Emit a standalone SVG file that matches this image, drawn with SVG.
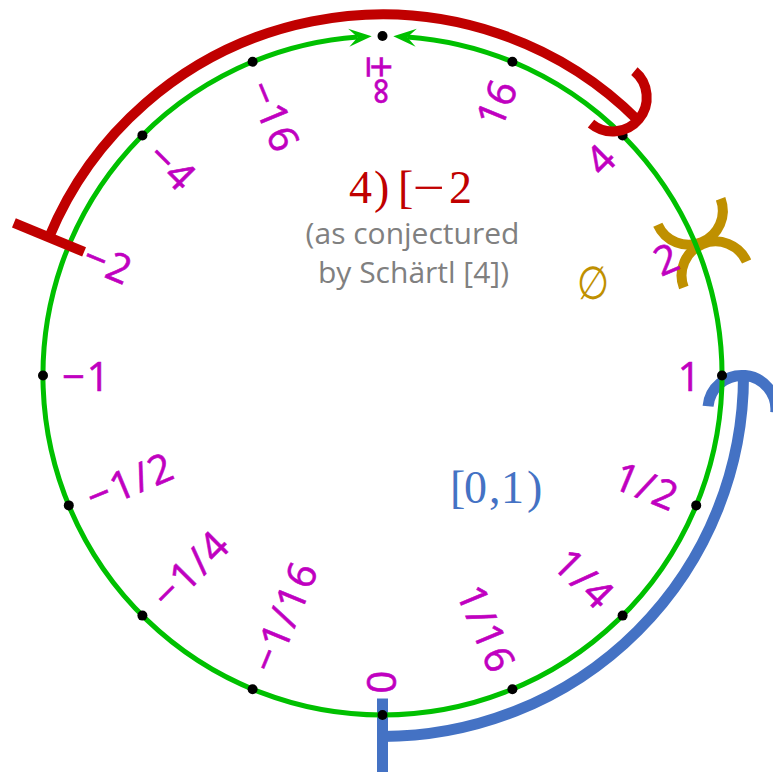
<svg xmlns="http://www.w3.org/2000/svg" width="773" height="772" viewBox="0 0 773 772">
<defs>
<style>
.lbl{font-family:"Open Sans","Liberation Sans",sans-serif;font-size:40px;fill:#C000C0;stroke:#C000C0;stroke-width:0.6px;dominant-baseline:central}
.ls{letter-spacing:2px}
.dot{fill:#000}
.green{fill:none;stroke:#00C000;stroke-width:5}
.arrow{fill:#00C000}
.red{fill:none;stroke:#C00000;stroke-width:10}
.blue{fill:none;stroke:#4472C4;stroke-width:11}
.gold{fill:none;stroke:#BF9000;stroke-width:10}
.math{font-family:"Liberation Serif","DejaVu Serif",serif;font-size:46px}
.note{font-family:"Open Sans","Noto Sans",sans-serif;font-size:30px;fill:#808080}
</style>
</defs>
<rect width="773" height="772" fill="#fff"/>
<g id="interval-blue">
<path class="blue" d="M382.5 736.5 A361 361 0 0 0 743.5 375.5"/>
<line class="blue" x1="382.5" y1="698.5" x2="382.5" y2="774.5"/>
<path class="blue" d="M708.05 406.2 A34 34 0 0 1 775.75 412.6"/>
</g>
<g id="interval-gold">
<path class="gold" d="M720.6 198.7 A34 34 0 0 1 657.8 224.7"/>
<path class="gold" d="M746.6 261.5 A34 34 0 0 0 683.8 287.5"/>
</g>
<g id="connectors">
<path class="green" d="M357.75 36.9 A339.5 339.5 0 0 0 382.5 715 A339.5 339.5 0 0 0 407.25 36.9"/>
<polygon class="arrow" points="0,0 -23,-9 -14,0 -23,9" transform="translate(371.7,36.2) rotate(-3.8)"/>
<polygon class="arrow" points="0,0 -23,-9 -14,0 -23,9" transform="translate(393.3,36.2) rotate(183.8)"/>
</g>
<g id="pt-0"><circle class="dot" cx="382.5" cy="715" r="5"/><text class="lbl" text-anchor="end" transform="translate(382.5,693.5) rotate(90)">0</text></g>
<g id="pt-1-16"><circle class="dot" cx="512.4" cy="689.2" r="5"/><text class="lbl ls" text-anchor="end" transform="translate(505,671) rotate(67.5)">1/16</text></g>
<g id="pt-1-4"><circle class="dot" cx="622.6" cy="615.6" r="5"/><text class="lbl ls" text-anchor="end" transform="translate(608.8,601.8) rotate(45)">1/4</text></g>
<g id="pt-1-2"><circle class="dot" cx="696.2" cy="505.4" r="5"/><text class="lbl ls" text-anchor="end" transform="translate(678.1,498) rotate(22.5)">1/2</text></g>
<g id="pt-1"><circle class="dot" cx="722" cy="375.5" r="5"/><text class="lbl" text-anchor="end" transform="translate(700.5,375.5)">1</text></g>
<g id="pt-2"><text class="lbl" text-anchor="end" transform="translate(676.3,253.8) rotate(-22.5)">2</text></g>
<g id="pt-4"><circle class="dot" cx="622.6" cy="135.4" r="5"/><text class="lbl" text-anchor="end" transform="translate(607.4,150.6) rotate(-45)">4</text></g>
<g id="pt-16"><circle class="dot" cx="512.4" cy="61.8" r="5"/><text class="lbl" text-anchor="end" transform="translate(504.2,81.7) rotate(-67.5)">16</text></g>
<g id="pt-inf"><circle class="dot" cx="382.5" cy="36" r="5"/><text class="lbl" text-anchor="start" transform="translate(382.5,55.5) rotate(90)">±</text><text class="lbl" text-anchor="start" font-family="DejaVu Sans" font-size="42" transform="translate(382.5,77) rotate(90)">∞</text></g>
<g id="pt-m16"><circle class="dot" cx="252.6" cy="61.8" r="5"/><text class="lbl ls" text-anchor="start" transform="translate(260.8,81.7) rotate(67.5)">−16</text></g>
<g id="pt-m4"><circle class="dot" cx="142.4" cy="135.4" r="5"/><text class="lbl ls" text-anchor="start" transform="translate(155.5,148.5) rotate(45)">−4</text></g>
<g id="pt-m2"><text class="lbl ls" text-anchor="start" transform="translate(85.9,252.7) rotate(22.5)">−2</text></g>
<g id="pt-m1"><circle class="dot" cx="43" cy="375.5" r="5"/><text class="lbl ls" text-anchor="start" transform="translate(62,375.5)">−1</text></g>
<g id="pt-m1-2"><circle class="dot" cx="68.8" cy="505.4" r="5"/><text class="lbl ls" text-anchor="start" transform="translate(87.8,497.6) rotate(-22.5)">−1/2</text></g>
<g id="pt-m1-4"><circle class="dot" cx="142.4" cy="615.6" r="5"/><text class="lbl ls" text-anchor="start" transform="translate(157.6,600.4) rotate(-45)">−1/4</text></g>
<g id="pt-m1-16"><circle class="dot" cx="252.6" cy="689.2" r="5"/><text class="lbl ls" text-anchor="start" transform="translate(260.8,669.3) rotate(-67.5)">−1/16</text></g>
<g id="interval-red">
<path class="red" d="M49 237.3 A361 361 0 0 1 637.8 120.2"/>
<line class="red" x1="84.1" y1="251.9" x2="13.9" y2="222.8"/>
<path class="red" d="M634.4 71.2 A34 34 0 0 1 591 123.6"/>
</g>
<g id="captions">
<text class="math" fill="#C00000" y="203"><tspan x="349">4</tspan><tspan x="374">)</tspan><tspan x="398">[</tspan><tspan x="413" textLength="32" lengthAdjust="spacingAndGlyphs">−</tspan><tspan x="449">2</tspan></text>
<text class="note" x="412.5" y="244" text-anchor="middle">(as conjectured</text>
<text class="note" x="413.5" y="283" text-anchor="middle">by Schärtl [4])</text>
<text class="math" fill="#4472C4" y="503"><tspan x="450">[</tspan><tspan x="464">0</tspan><tspan x="489">,</tspan><tspan x="501">1</tspan><tspan x="527">)</tspan></text>
<text class="math" fill="#BF9000" x="593" y="299" text-anchor="middle" font-size="40" transform="translate(593,0) scale(0.8,1) translate(-593,0)">∅</text>
</g>
</svg>
